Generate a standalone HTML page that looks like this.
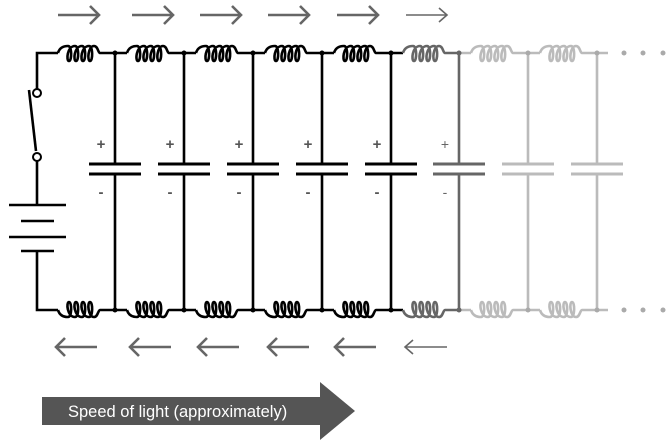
<!DOCTYPE html>
<html><head><style>html,body{margin:0;padding:0;background:#fff;}svg{display:block}</style></head>
<body>
<svg width="666" height="441" viewBox="0 0 666 441" xmlns="http://www.w3.org/2000/svg">
<defs>
<path id="coil" fill="none" stroke-width="2.6" stroke-linejoin="round" d="M0,0 C2,-7 8,-7 10,-7 C14,-7 14,8 11,8 C8,8 9,-7 17,-7 C21,-7 21,8 18,8 C15,8 16,-7 24,-7 C28,-7 28,8 25,8 C22,8 23,-7 31,-7 C35,-7 35,8 32,8 C29,8 30,-7 36,-7 C40,-7 40,0 42,0"/>
<g id="rarrow" fill="none" stroke-width="2.6"><path d="M0,0 L41,0 M32,-9 L41,0 L32,9"/></g>
<g id="larrow" fill="none" stroke-width="2.6"><path d="M0,0 L41,0 M9,-9 L0,0 L9,9"/></g>
</defs>
<g stroke="#666">
<use href="#rarrow" x="58" y="15"/><use href="#rarrow" x="132" y="15"/><use href="#rarrow" x="200" y="15"/><use href="#rarrow" x="268" y="15"/><use href="#rarrow" x="337" y="15"/>
<use href="#larrow" x="56" y="347"/><use href="#larrow" x="130" y="347"/><use href="#larrow" x="198" y="347"/><use href="#larrow" x="268" y="347"/><use href="#larrow" x="335" y="347"/>
</g>
<g stroke="#666" fill="none" stroke-width="1.6"><path d="M406,15 L447,15 M439,8 L447,15 L439,22"/><path d="M405,347 L447,347 M413,340 L405,347 L413,354"/></g>

<g stroke="#000" stroke-width="2.6" fill="none">
<path d="M58,53 L37,53 L37,89"/>
<circle cx="37" cy="93" r="4" stroke-width="2"/>
<circle cx="37" cy="157" r="4" stroke-width="2"/>
<path d="M29,90 L36,151"/>
<path d="M37,161 L37,205"/>
<path d="M9,205 L66,205 M21,221 L54,221 M9,237 L66,237 M21,251 L54,251"/>
<path d="M37,251 L37,310 L58,310"/>
</g>

<g fill="none" stroke-width="2.6">
<g stroke="#000">
<use href="#coil" x="58" y="53" stroke="#000"/>
<use href="#coil" x="127" y="53" stroke="#000"/>
<use href="#coil" x="196" y="53" stroke="#000"/>
<use href="#coil" x="265" y="53" stroke="#000"/>
<use href="#coil" x="334" y="53" stroke="#000"/>
<g transform="translate(0,620) scale(1,-1)">
<use href="#coil" x="58" y="310" stroke="#000"/>
<use href="#coil" x="127" y="310" stroke="#000"/>
<use href="#coil" x="196" y="310" stroke="#000"/>
<use href="#coil" x="265" y="310" stroke="#000"/>
<use href="#coil" x="334" y="310" stroke="#000"/>
</g>
<path d="M100,53 H127 M169,53 H196 M238,53 H265 M307,53 H334 M376,53 H403 M100,310 H127 M169,310 H196 M238,310 H265 M307,310 H334 M376,310 H403"/>
<path d="M115,53 V164 M115,174 V310 M184,53 V164 M184,174 V310 M253,53 V164 M253,174 V310 M322,53 V164 M322,174 V310 M391,53 V164 M391,174 V310"/>
<path stroke-width="3" d="M89,164 H141 M89,174 H141 M158,164 H210 M158,174 H210 M227,164 H279 M227,174 H279 M296,164 H348 M296,174 H348 M365,164 H417 M365,174 H417"/>
</g>
<g stroke="#666">
<use href="#coil" x="403" y="53" stroke="#666"/>
<g transform="translate(0,620) scale(1,-1)"><use href="#coil" x="403" y="310" stroke="#666"/></g>
<path d="M445,53 H459 M445,310 H459 M459,53 V164 M459,174 V310"/>
<path stroke-width="3" d="M433,164 H485 M433,174 H485"/>
</g>
<g stroke="#bbb">
<use href="#coil" x="471" y="53" stroke="#bbb"/>
<use href="#coil" x="540" y="53" stroke="#bbb"/>
<g transform="translate(0,620) scale(1,-1)"><use href="#coil" x="471" y="310" stroke="#bbb"/><use href="#coil" x="540" y="310" stroke="#bbb"/></g>
<path d="M459,53 H471 M513,53 H540 M582,53 H608 M459,310 H471 M513,310 H540 M582,310 H608"/>
<path d="M528,53 V164 M528,174 V310 M597,53 V164 M597,174 V310"/>
<path stroke-width="3" d="M502,164 H554 M502,174 H554 M571,164 H623 M571,174 H623"/>
</g>
</g>
<g fill="#000">
<circle cx="115" cy="53" r="2.5"/><circle cx="184" cy="53" r="2.5"/><circle cx="253" cy="53" r="2.5"/><circle cx="322" cy="53" r="2.5"/><circle cx="391" cy="53" r="2.5"/>
<circle cx="115" cy="310" r="2.5"/><circle cx="184" cy="310" r="2.5"/><circle cx="253" cy="310" r="2.5"/><circle cx="322" cy="310" r="2.5"/><circle cx="391" cy="310" r="2.5"/>
</g>
<g fill="#666"><circle cx="459" cy="53" r="2.5"/><circle cx="459" cy="310" r="2.5"/></g>
<g fill="#aaa"><circle cx="528" cy="53" r="2.5"/><circle cx="597" cy="53" r="2.5"/><circle cx="528" cy="310" r="2.5"/><circle cx="597" cy="310" r="2.5"/>
<circle cx="624" cy="53" r="2.5"/><circle cx="643" cy="53" r="2.5"/><circle cx="663" cy="53" r="2.5"/>
<circle cx="624" cy="310" r="2.5"/><circle cx="643" cy="310" r="2.5"/><circle cx="663" cy="310" r="2.5"/></g>
<g font-family="Liberation Sans, sans-serif" font-size="15" font-weight="bold" fill="#555" text-anchor="middle">
<text x="101" y="149">+</text><text x="170" y="149">+</text><text x="239" y="149">+</text><text x="308" y="149">+</text><text x="377" y="149">+</text>
<text x="101" y="197">-</text><text x="170" y="197">-</text><text x="239" y="197">-</text><text x="308" y="197">-</text><text x="377" y="197">-</text>
</g>
<g font-family="Liberation Sans, sans-serif" font-size="14" fill="#666" text-anchor="middle"><text x="445" y="149">+</text><text x="445" y="197">-</text></g>
<path d="M42,397 H320 V382 L355,411 L320,440 V425 H42 Z" fill="#555"/>
<text x="68" y="417" font-family="Liberation Sans, sans-serif" font-size="16.5" fill="#fff">Speed of light (approximately)</text>
</svg>
</body></html>
